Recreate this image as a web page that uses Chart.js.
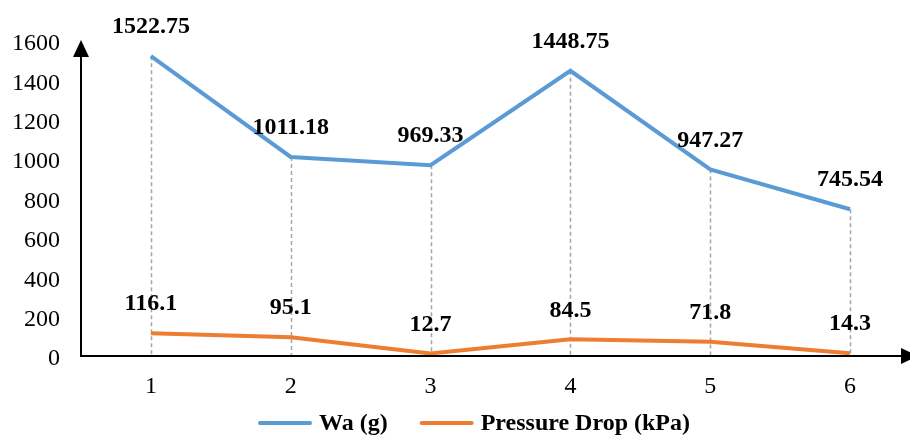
<!DOCTYPE html>
<html>
<head>
<meta charset="utf-8">
<script src="https://cdn.jsdelivr.net/npm/chart.js@4"></script>
<style>
html,body{margin:0;padding:0;background:#fff;}
#wrap{width:910px;height:436px;position:relative;}
</style>
</head>
<body>
<div id="wrap"><canvas id="c" width="910" height="436"></canvas></div>
<script>
const categories = [1, 2, 3, 4, 5, 6];
const waValues = [1522.75, 1011.18, 969.33, 1448.75, 947.27, 745.54];
const pressureValues = [116.1, 95.1, 12.7, 84.5, 71.8, 14.3];
const yTicks = [0, 200, 400, 600, 800, 1000, 1200, 1400, 1600];
const seriesNames = ['Wa (g)', 'Pressure Drop (kPa)'];
const seriesColors = ['#5B9BD5', '#ED7D31'];
const seriesValues = [waValues, pressureValues];

const FONT = '"Liberation Serif", "Times New Roman", serif';

const overlay = {
  id: 'overlay',
  afterDatasetsDraw(chart) {
    const ctx = chart.ctx;
    const xs = chart.scales.x, ys = chart.scales.y;
    const ca = chart.chartArea;
    ctx.save();
    // axes
    ctx.strokeStyle = '#000';
    ctx.fillStyle = '#000';
    ctx.lineWidth = 2;
    const y0 = ys.getPixelForValue(0);
    ctx.beginPath();
    ctx.moveTo(ca.left, y0);
    ctx.lineTo(ca.left, 52);
    ctx.stroke();
    ctx.beginPath();
    ctx.moveTo(ca.left - 8, 57);
    ctx.lineTo(ca.left + 8, 57);
    ctx.lineTo(ca.left, 40);
    ctx.closePath();
    ctx.fill();
    ctx.beginPath();
    ctx.moveTo(ca.left - 1, y0);
    ctx.lineTo(902, y0);
    ctx.stroke();
    ctx.beginPath();
    ctx.moveTo(901, y0 - 8);
    ctx.lineTo(901, y0 + 8);
    ctx.lineTo(918, y0);
    ctx.closePath();
    ctx.fill();
    // data labels
    ctx.font = 'bold 24px ' + FONT;
    ctx.textAlign = 'center';
    ctx.textBaseline = 'middle';
    ctx.fillStyle = '#000';
    seriesValues.forEach(vals => {
      vals.forEach((v, i) => {
        const px = xs.getPixelForValue(categories[i]);
        const py = ys.getPixelForValue(v);
        ctx.fillText(String(v), px, py - 29);
      });
    });
    // legend
    ctx.font = 'bold 24px ' + FONT;
    ctx.textAlign = 'left';
    const lineLen = 54, gap = 7, itemGap = 32;
    const widths = seriesNames.map(n => lineLen + gap + ctx.measureText(n).width);
    const total = widths[0] + itemGap + widths[1];
    let x = 474 - total / 2;
    const ly = 423;
    seriesNames.forEach((n, i) => {
      ctx.strokeStyle = seriesColors[i];
      ctx.lineWidth = 4;
      ctx.lineCap = 'round';
      ctx.beginPath();
      ctx.moveTo(x + 2, ly);
      ctx.lineTo(x + lineLen - 2, ly);
      ctx.stroke();
      ctx.fillStyle = '#000';
      ctx.fillText(n, x + lineLen + gap, ly + 1);
      x += widths[i] + itemGap;
    });
    ctx.restore();
  },
  beforeDatasetsDraw(chart) {
    const ctx = chart.ctx;
    const xs = chart.scales.x, ys = chart.scales.y;
    const y0 = ys.getPixelForValue(0);
    ctx.save();
    ctx.strokeStyle = '#A5A5A5';
    ctx.lineWidth = 1.5;
    ctx.setLineDash([4, 3]);
    waValues.forEach((v, i) => {
      const px = Math.round(xs.getPixelForValue(categories[i])) + 0.5;
      ctx.beginPath();
      ctx.moveTo(px, ys.getPixelForValue(v));
      ctx.lineTo(px, y0);
      ctx.stroke();
    });
    ctx.restore();
  }
};

new Chart(document.getElementById('c'), {
  type: 'line',
  data: {
    datasets: [
      {
        label: seriesNames[0],
        data: waValues.map((v, i) => ({x: categories[i], y: v})),
        borderColor: seriesColors[0],
        backgroundColor: seriesColors[0],
        borderWidth: 4,
        pointRadius: 0,
        tension: 0
      },
      {
        label: seriesNames[1],
        data: pressureValues.map((v, i) => ({x: categories[i], y: v})),
        borderColor: seriesColors[1],
        backgroundColor: seriesColors[1],
        borderWidth: 4,
        pointRadius: 0,
        tension: 0
      }
    ]
  },
  options: {
    responsive: false,
    animation: false,
    events: [],
    layout: { padding: { top: 41, right: 12, left: 0, bottom: 0 } },
    plugins: {
      legend: { display: false },
      tooltip: { enabled: false }
    },
    scales: {
      x: {
        type: 'linear',
        min: 0.5,
        max: 6.343,
        afterBuildTicks: s => { s.ticks = categories.map(v => ({value: v})); },
        afterFit: s => { s.height = 80; },
        grid: { display: false, drawTicks: false },
        border: { display: false },
        ticks: {
          font: { family: FONT, size: 24 },
          color: '#000',
          padding: 16,
          autoSkip: false,
          maxRotation: 0,
          callback: v => String(v)
        }
      },
      y: {
        min: 0,
        max: 1600,
        afterBuildTicks: s => { s.ticks = yTicks.map(v => ({value: v})); },
        afterFit: s => { s.width = 81; },
        grid: { display: false, drawTicks: false },
        border: { display: false },
        ticks: {
          font: { family: FONT, size: 24 },
          color: '#000',
          padding: 21,
          labelOffset: 3,
          callback: v => String(v)
        }
      }
    }
  },
  plugins: [overlay]
});
</script>
</body>
</html>
